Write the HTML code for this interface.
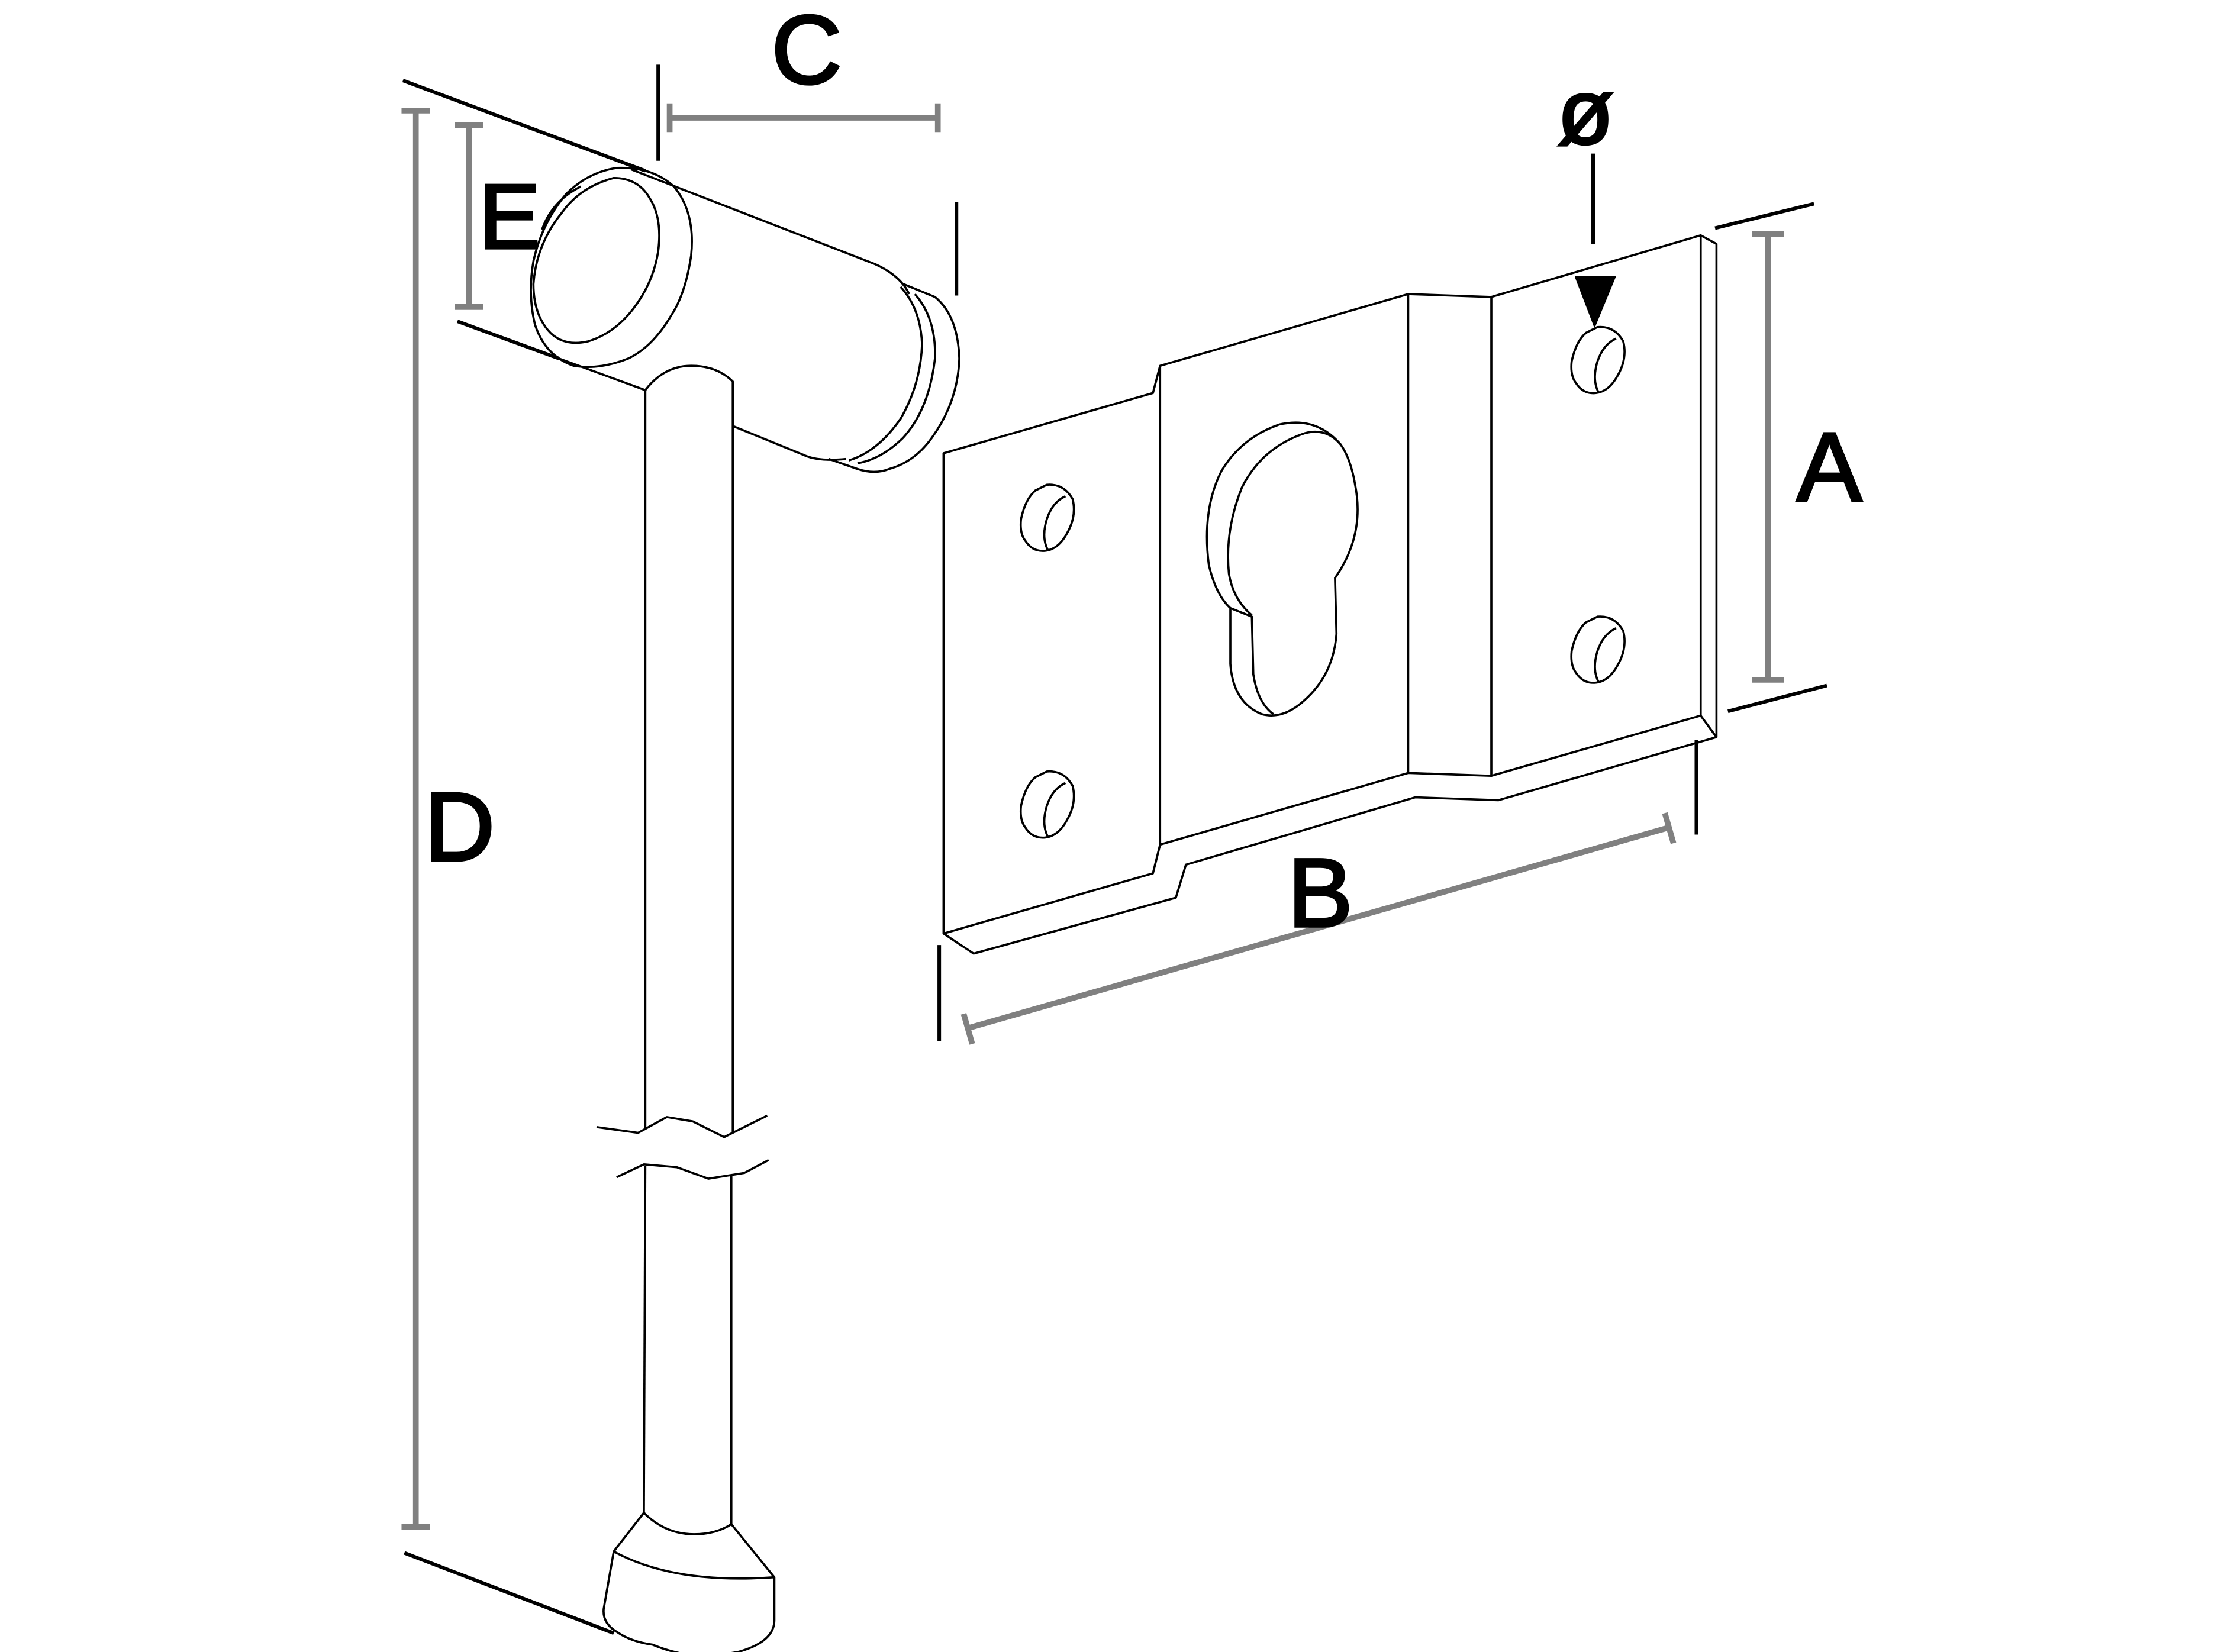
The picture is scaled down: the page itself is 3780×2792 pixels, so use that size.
<!DOCTYPE html>
<html><head><meta charset="utf-8"><style>
html,body{margin:0;padding:0;background:#fff;}
svg{display:block;}
text{font-family:"Liberation Sans","DejaVu Sans",sans-serif;}
</style></head><body>
<svg width="3780" height="2792" viewBox="0 0 1560 1152" xmlns="http://www.w3.org/2000/svg">
<g fill="none" stroke="#000" stroke-width="1.5" stroke-linejoin="round">
<path d="M281 56 L450 119" stroke-width="2.5"/>
<path d="M319 224 L390 250" stroke-width="2.5"/>
<path d="M282 1083 L428 1139" stroke-width="2.5"/>
<path d="M459 45 L459 112" stroke-width="2.5"/>
<path d="M667 141 L667 206" stroke-width="2.5"/>
<path d="M655 659 L655 726" stroke-width="2.5"/>
<path d="M1183 516 L1183 582" stroke-width="2.5"/>
<path d="M1196 159 L1265 142" stroke-width="2.5"/>
<path d="M1205 496 L1274 478" stroke-width="2.5"/>
<path d="M1111 107 L1111 170" stroke-width="2.5"/>
<path d="M440 118 L610 184 Q628 192 634 205"/>
<path d="M390 250 L450 272"/>
<path d="M511 297 L560 317 Q570 322 590 320"/>
<path d="M630 198 L652 207 Q668 220 669 250 Q668 280 650 305 Q638 322 620 327 Q610 331 598 327 L578 320"/>
<path d="M628 200 Q642 215 643 240 Q642 268 628 292 Q612 315 592 321"/>
<path d="M638 205 Q653 222 652 250 Q648 285 630 305 Q615 320 598 323"/>
<path d="M430 117 Q455 116 470 130 Q485 148 482 178 Q478 205 468 220 Q455 242 438 250 Q418 258 400 255 Q380 248 373 226 Q368 205 372 182 Q378 155 395 135 Q410 120 430 117 Z"/>
<path d="M428 124 Q445 124 453 138 Q462 152 459 175 Q456 195 444 212 Q430 232 410 238 Q392 242 382 230 Q372 218 372 198 Q374 170 392 148 Q405 130 428 124 Z"/>
<path d="M378 160 Q385 140 405 130"/>
<path d="M450 272 Q463 255 482 255 Q500 255 511 266 L511 790"/>
<path d="M450 272 L450 788"/>
<path d="M416 786 L445 790 L465 779 L483 782 L505 793 L535 778"/>
<path d="M430 821 L449 812 L472 814 L494 822 L519 818 L536 809"/>
<path d="M450 813 L449 1055"/>
<path d="M510 820 L510 1063"/>
<path d="M449 1055 Q464 1070 484 1070 Q499 1070 510 1063 L540 1100 L540 1130 Q540 1145 515 1152 Q500 1155 480 1154 Q467 1152 455 1147 Q440 1145 430 1138 Q420 1132 421 1122 L428 1082 Z"/>
<path d="M428 1082 Q470 1105 540 1100"/>
<path d="M658 316 L804 274 L809 255 L982 205 L1040 207 L1186 164 L1197 170 L1197 514 L1045 558 L987 556 L827 603 L820 626 L679 665 L658 651 Z"/>
<path d="M809 255 L809 589 L804 609 L658 651"/>
<path d="M809 589 L982 539 L1040 541 L1186 499 L1197 514"/>
<path d="M982 205 L982 539"/>
<path d="M1040 207 L1040 541"/>
<path d="M1186 164 L1186 499"/>
<path d="M843 394 Q838 355 852 328 Q866 305 892 296 Q918 290 935 310 Q942 320 945 338 Q952 373 931 403 L932 442 Q930 470 910 488 Q895 502 880 498 Q860 490 858 463 L858 424 Q848 415 843 394 Z"/>
<path d="M873 429 Q860 418 857 400 Q854 370 866 340 Q880 312 910 302 Q925 298 935 310"/>
<path d="M858 424 L873 430 L874 470 Q877 490 888 498"/>
<g id="h">
<path d="M730 338 Q742 337 748 348 Q751 360 744 372 Q738 383 729 384 Q720 385 715 377 Q711 372 712 362 Q715 348 722 342 Z"/>
<path d="M743 346 Q734 350 730 362 Q726 375 731 384"/>
</g>
<use href="#h" transform="translate(0,200)"/>
<use href="#h" transform="translate(384,-110)"/>
<use href="#h" transform="translate(384,92)"/>
<path d="M1099 193 L1126 193 L1112 227 Z" fill="#000"/>
</g>
<g fill="none" stroke="#808080" stroke-width="4">
<path d="M290 77 L290 1065 M280 77 L300 77 M280 1065 L300 1065"/>
<path d="M327 87 L327 214 M317 87 L337 87 M317 214 L337 214"/>
<path d="M467 82 L654 82 M467 72 L467 92 M654 72 L654 92"/>
<path d="M1233 163 L1233 474 M1222 163 L1244 163 M1222 474 L1244 474"/>
<path d="M675 717 L1164 577 M672 707 L678 728 M1161 567 L1167 588"/>
</g>
<g fill="#000" stroke="#000" stroke-width="1.8" font-size="68">
<text x="538" y="58">C</text>
<text x="334" y="173" font-size="64">E</text>
<text x="296" y="600">D</text>
<text x="898" y="646">B</text>
<text x="1253" y="349">A</text>
<text x="1086" y="100" font-size="64">ø</text>
</g>
</svg>
</body></html>
